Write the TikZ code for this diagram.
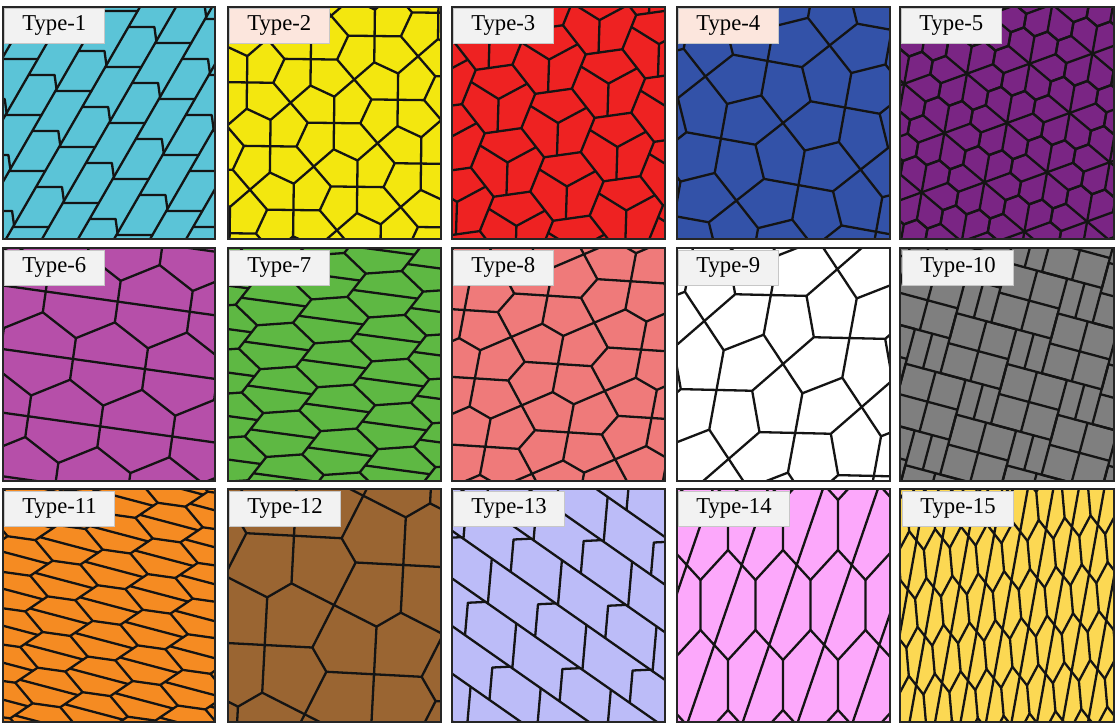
\documentclass[tikz,border=0pt]{standalone}
\usepackage{fontspec}
\setmainfont{Liberation Serif}
\definecolor{c1}{HTML}{5BC4D7}
\definecolor{c2}{HTML}{F3E70F}
\definecolor{c3}{HTML}{EE2222}
\definecolor{c4}{HTML}{3352A8}
\definecolor{c5}{HTML}{7A2584}
\definecolor{c6}{HTML}{B64FA9}
\definecolor{c7}{HTML}{5EB843}
\definecolor{c8}{HTML}{EF7A7A}
\definecolor{c9}{HTML}{FFFFFF}
\definecolor{c10}{HTML}{7F7F7F}
\definecolor{c11}{HTML}{F58B22}
\definecolor{c12}{HTML}{9A6532}
\definecolor{c13}{HTML}{BCBCF8}
\definecolor{c14}{HTML}{FCA8FB}
\definecolor{c15}{HTML}{FCD853}
\definecolor{labw}{HTML}{F2F2F2}
\definecolor{labp}{HTML}{FCE6DD}
\tikzset{
  tl/.style={line width=2.3pt, draw=black!92, line join=round, line cap=round},
  frame/.style={line width=1.6pt, draw=black!85},
  lab/.style={anchor=north west, fill=labw, draw=black!22, line width=0.6pt,
    minimum height=35pt, inner xsep=18pt, inner ysep=0pt,
    font=\fontsize{22.7}{24}\selectfont},
}
% lattice repetition of a cell
\newcommand\latt[6]{%
  \foreach \i in {-#1,...,#1}{\foreach \j in {-#1,...,#1}{%
    \begin{scope}[shift={({\i*(#2)+\j*(#4)},{\i*(#3)+\j*(#5)})}]#6\end{scope}}}}
% panel: clip, fill, content, frame
\newcommand\panel[6]{%
  \begin{scope}
    \clip (#1,#2) rectangle (#3,#4);
    \fill[#5] (#1,#2) rectangle (#3,#4);
    #6
  \end{scope}
  \draw[frame] (#1,#2) rectangle (#3,#4);}
% cells
\newcommand\bandcell{\draw[tl] (0,0)--(46.2,-80) (0,0)--(36,0) (23.1,-40)--(49.1,-40)--(51,-26);}
\newcommand\cairocell[1]{\draw[tl] (0,0)--({.5-#1/2},.5)--(0,1) (1,0)--({.5+#1/2},.5)--(1,1)
  ({.5-#1/2},.5)--({.5+#1/2},.5)
  (1,0)--(1.5,{.5-#1/2})--(2,0) (1,1)--(1.5,{.5+#1/2})--(2,1) (1.5,{.5-#1/2})--(1.5,{.5+#1/2});}
\newcommand\hexY{\draw[tl] (1,0)--(.5,-.866)--(-.5,-.866)--(-1,0) (0,0)--(.825,-.303) (0,0)--(-.675,-.563) (0,0)--(-.15,.866);}
\newcommand\floret{\foreach \k in {0,...,5}{\draw[tl,rotate=60*\k] (0,0)--(1,-.5774)--(1.5,-.2887)--(1.5,.2887)--(1,.5774);}}
\newcommand\hexcell[4]{\draw[tl] (#1,0)--(#2,-#3)--(-#2,-#3)--(-#1,0)
  ({-#1+#4*(#1-#2)},{-#4*#3})--({#1-#4*(#1-#2)},{#4*#3});}
\newcommand\pythcell{\draw[tl] (0,0) rectangle (62,62) (31,0)--(31,62) (0,31)--(62,31) (44,62)--(44,98);}
\begin{document}
\begin{tikzpicture}[x=1pt,y=-1pt]
\useasboundingbox (0,0) rectangle (1119,725);
\fill[white] (0,0) rectangle (1119,725);
% ---------- row 1 ----------
\panel{3}{7}{215}{239}{c1}{\begin{scope}[shift={(109,123)}]\latt{6}{49.9}{-24}{46.2}{-80}{\bandcell}\end{scope}}
\panel{228}{7}{441}{239}{c2}{\begin{scope}[shift={(334,123)},rotate=-25,scale=48]\latt{4}{1}{1}{1}{-1}{\cairocell{.55}}\end{scope}}
\panel{452}{7}{665}{239}{c3}{\begin{scope}[shift={(558,123)},rotate=8,scale=37]\latt{4}{1.5}{.866}{0}{1.732}{\hexY}\end{scope}}
\panel{677}{7}{890}{239}{c4}{\begin{scope}[shift={(783,123)},rotate=14,scale=64]\latt{3}{1}{1}{1}{-1}{\cairocell{.55}}\end{scope}}
\panel{900}{7}{1114}{239}{c5}{\begin{scope}[shift={(1007,123)},rotate=170,scale=24]\latt{4}{2.5}{-.866}{2}{1.732}{\floret}\end{scope}}
% ---------- row 2 ----------
\panel{3}{248}{215}{481}{c6}{\begin{scope}[shift={(109,364)},rotate=22,scale=42]\latt{4}{1.5}{.866}{0}{1.732}{\hexcell{1}{.5}{.866}{.5}}\end{scope}}
\panel{228}{248}{441}{481}{c7}{\begin{scope}[shift={(334,364)},rotate=4]\latt{5}{56}{22}{0}{44}{\hexcell{38}{18}{22}{.3}}\end{scope}}
\panel{452}{248}{665}{481}{c8}{\begin{scope}[shift={(558,364)},rotate=-30,xslant=.2,scale=54]\latt{4}{1}{1}{1}{-1}{\cairocell{.45}}\end{scope}}
\panel{677}{248}{890}{481}{c9}{\begin{scope}[shift={(783,364)},rotate=10,yslant=.2,scale=70]\latt{3}{1}{1}{1}{-1}{\cairocell{.6}}\end{scope}}
\panel{900}{248}{1114}{481}{c10}{\begin{scope}[shift={(1007,364)},rotate=-15]\latt{3}{62}{36}{-36}{62}{\pythcell}\end{scope}}
% ---------- row 3 ----------
\panel{3}{489}{215}{722}{c11}{\begin{scope}[shift={(109,605)},rotate=-8]\latt{6}{48}{18}{0}{36}{\hexcell{34}{14}{18}{.2}}\end{scope}}
\panel{228}{489}{441}{722}{c12}{\begin{scope}[shift={(334,605)},rotate=30,scale=80]\latt{3}{1}{1}{1}{-1}{\cairocell{.35}}\end{scope}}
\panel{452}{489}{665}{722}{c13}{\begin{scope}[shift={(558,605)},rotate=85,scale=1.25]\latt{5}{49.9}{-24}{46.2}{-80}{\bandcell}\end{scope}}
\panel{677}{489}{890}{722}{c14}{\begin{scope}[shift={(783,605)},rotate=90,scale=50]\latt{4}{1.6}{.55}{0}{1.1}{\hexcell{1.1}{.5}{.55}{.5}}\end{scope}}
\panel{900}{489}{1114}{722}{c15}{\begin{scope}[shift={(1007,605)},rotate=95]\latt{8}{48}{13}{0}{26}{\hexcell{34}{14}{13}{.5}}\end{scope}}
% ---------- labels ----------
\node[lab] (t1) at (4,8) {Type-1};
\node[lab,fill=labp] (t2) at (229,8) {Type-2};
\node[lab] (t3) at (453,8) {Type-3};
\node[lab,fill=labp] (t4) at (678,8) {Type-4};
\node[lab] (t5) at (901,8) {Type-5};
\node[lab] (t6) at (4,250) {Type-6};
\node[lab] (t7) at (229,250) {Type-7};
\node[lab] (t8) at (453,250) {Type-8};
\node[lab] (t9) at (678,250) {Type-9};
\node[lab] (t10) at (902,250) {Type-10};
\node[lab] (t11) at (4,491) {Type-11};
\node[lab] (t12) at (229,491) {Type-12};
\node[lab] (t13) at (453,491) {Type-13};
\node[lab] (t14) at (678,491) {Type-14};
\node[lab] (t15) at (902,491) {Type-15};
\end{tikzpicture}
\end{document}
